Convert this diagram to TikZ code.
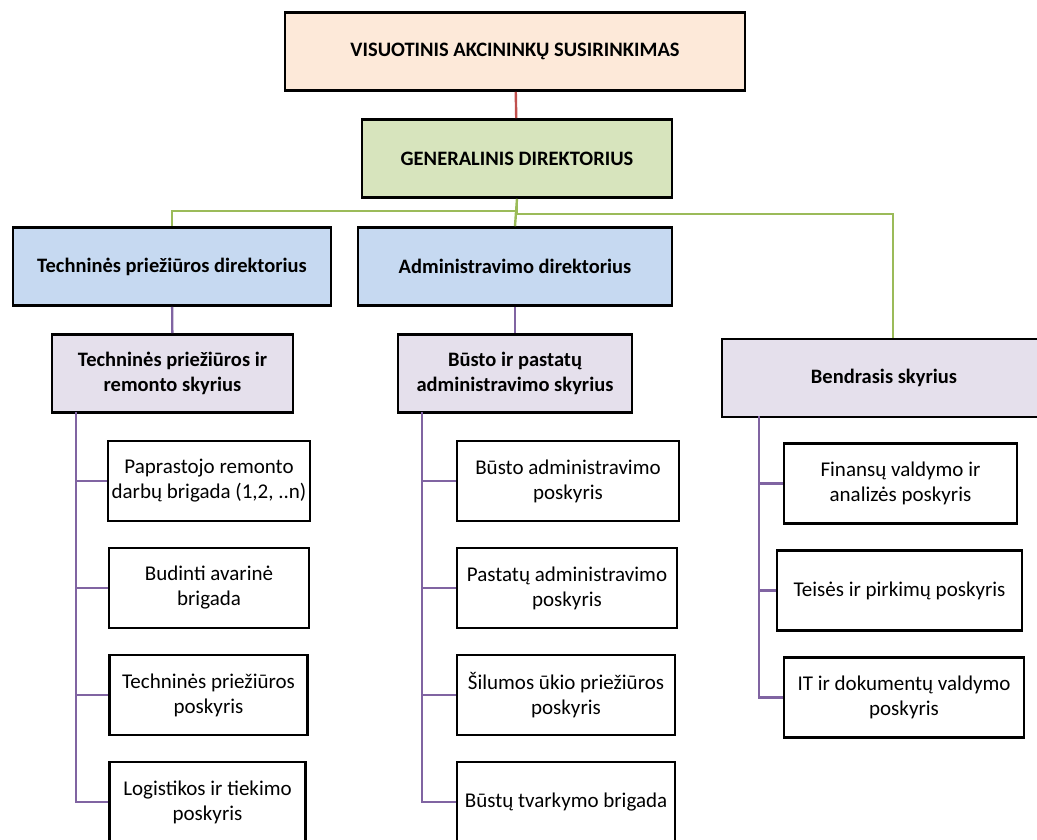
\documentclass[tikz,border=0pt]{standalone}
\usepackage{fontspec}
\setmainfont{Carlito}
\usetikzlibrary{positioning}
\definecolor{peachfill}{HTML}{FDE9D9}
\definecolor{greenfill}{HTML}{D7E4BD}
\definecolor{bluefill}{HTML}{C6D9F1}
\definecolor{lilacfill}{HTML}{E5E0EC}
\definecolor{redline}{HTML}{C0504D}
\definecolor{greenline}{HTML}{9BBB59}
\definecolor{purpleline}{HTML}{8064A2}

\begin{document}
\begin{tikzpicture}[x=1pt,y=-1pt,
    box/.style={draw=black,line width=2.6pt,align=center,inner sep=1pt,
      minimum height=78pt,font=\fontsize{21}{25}\selectfont},
    headbox/.style={box,font=\bfseries\fontsize{20.5}{25}\selectfont},
    unitbox/.style={box,minimum height=80pt},
    link/.style={line width=2.4pt}]
  \useasboundingbox (0,0) rectangle (1037,840);

  % top levels
  \node[headbox,fill=peachfill,minimum width=460pt] (vas) at (515,51.5) {VISUOTINIS AKCININKŲ SUSIRINKIMAS};
  \node[headbox,fill=greenfill,minimum width=310pt] (gen) at (517,158.5) {GENERALINIS DIREKTORIUS};
  \node[headbox,fill=bluefill,minimum width=318pt] (tdir) at (172,266.5) {Techninės priežiūros direktorius};
  \node[headbox,fill=bluefill,minimum width=314pt] (adir) at (515,266.5) {Administravimo direktorius};

  % departments
  \node[headbox,fill=lilacfill,minimum width=241pt] (tsk) at (172.5,373.5) {Techninės priežiūros ir\\remonto skyrius};
  \node[headbox,fill=lilacfill,minimum width=234pt] (bsk) at (515,373.5) {Būsto ir pastatų\\administravimo skyrius};
  \node[headbox,fill=lilacfill,minimum width=324pt] (bend) at (884,378) {Bendrasis skyrius};

  % units
  \node[unitbox,minimum width=202pt] (t1) at (209,481) {Paprastojo remonto\\darbų brigada (1,2, ..n)};
  \node[unitbox,minimum width=200pt] (t2) at (209,588) {Budinti avarinė\\brigada};
  \node[unitbox,minimum width=198pt] (t3) at (208.5,695) {Techninės priežiūros\\poskyris};
  \node[unitbox,minimum width=196pt] (t4) at (207.5,802) {Logistikos ir tiekimo\\poskyris};

  \node[unitbox,minimum width=222pt] (b1) at (568,481) {Būsto administravimo\\poskyris};
  \node[unitbox,minimum width=220pt] (b2) at (567,588) {Pastatų administravimo\\poskyris};
  \node[unitbox,minimum width=218pt] (b3) at (566,695) {Šilumos ūkio priežiūros\\poskyris};
  \node[unitbox,minimum width=218pt] (b4) at (566,802) {Būstų tvarkymo brigada};

  \node[unitbox,minimum width=233pt] (g1) at (900.5,483.5) {Finansų valdymo ir\\analizės poskyris};
  \node[unitbox,minimum width=245pt] (g2) at (899.5,590.5) {Teisės ir pirkimų poskyris};
  \node[unitbox,minimum width=240pt] (g3) at (904,697.5) {IT ir dokumentų valdymo\\poskyris};

  % connectors
  \draw[link,redline] (vas) -- (gen);
  \draw[link,greenline] (gen.south) -- ++(0,12) -| (tdir.north);
  \draw[link,greenline] (gen.south) -- (adir.north);
  \draw[link,greenline] (gen.south) -- ++(0,15) -| ([xshift=9pt]bend.north);
  \draw[link,purpleline] (tdir) -- (tsk);
  \draw[link,purpleline] (adir) -- (bsk);

  \coordinate (ttrunk) at (76,412);
  \coordinate (btrunk) at (422,412);
  \coordinate (gtrunk) at (759,416);
  \foreach \u in {t1,t2,t3,t4}
    \draw[link,purpleline] (ttrunk) |- (\u.west);
  \foreach \u in {b1,b2,b3,b4}
    \draw[link,purpleline] (btrunk) |- (\u.west);
  \foreach \u in {g1,g2,g3}
    \draw[link,purpleline] (gtrunk) |- (\u.west);
\end{tikzpicture}
\end{document}
